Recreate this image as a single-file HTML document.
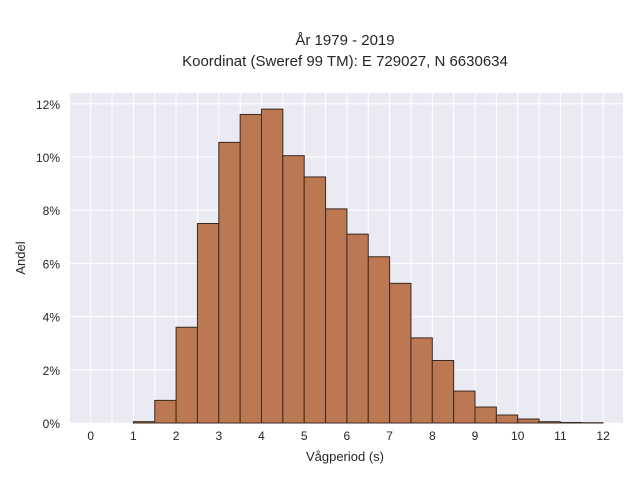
<!DOCTYPE html>
<html><head><meta charset="utf-8"><style>
body{margin:0;background:#fff;}
svg text{font-family:"Liberation Sans",sans-serif;fill:#262626;}
</style></head><body>
<svg id="chart" width="640" height="480" xmlns="http://www.w3.org/2000/svg">
<text x="345" y="45" font-size="15" text-anchor="middle">År 1979 - 2019</text>
<text x="345" y="66" font-size="15" text-anchor="middle">Koordinat (Sweref 99 TM): E 729027, N 6630634</text>
<rect x="70" y="93" width="553" height="330" fill="#eaeaf2"/>
<g id="grid"></g><g id="bars"></g><g id="ticks"></g>
<text x="345" y="461" font-size="13" text-anchor="middle">Vågperiod (s)</text>
<text transform="translate(25,258) rotate(-90)" font-size="13" text-anchor="middle">Andel</text>
</svg>
<script>
const binStarts=[1,1.5,2,2.5,3,3.5,4,4.5,5,5.5,6,6.5,7,7.5,8,8.5,9,9.5,10,10.5,11,11.5];
const shares=[0.05,0.85,3.6,7.5,10.55,11.6,11.8,10.05,9.25,8.05,7.1,6.25,5.25,3.2,2.35,1.2,0.6,0.3,0.15,0.05,0.02,0.01];
const xTicks=[0,1,2,3,4,5,6,7,8,9,10,11,12];
const yTicks=[0,2,4,6,8,10,12];
const binWidth=0.5;
const NS="http://www.w3.org/2000/svg";
const X=v=>90.7+v*42.7, Y=v=>423-v*26.6;
const grid=document.getElementById('grid'),bars=document.getElementById('bars'),ticks=document.getElementById('ticks');
function mk(tag,attrs,parent){const e=document.createElementNS(NS,tag);for(const k in attrs)e.setAttribute(k,attrs[k]);parent.appendChild(e);return e;}
for(let v=-0.5;v<=12.5;v+=0.5){const l=mk('line',{x1:X(v),x2:X(v),y1:93,y2:423,stroke:'#fff','stroke-width':1},grid);

}
yTicks.forEach(t=>{const l=mk('line',{x1:70,x2:623,y1:Y(t),y2:Y(t),stroke:'#fff','stroke-width':1},grid);


const tx=mk('text',{x:60,y:Y(t)+5,'font-size':12,'text-anchor':'end'},ticks);tx.textContent=t+'%';

});
xTicks.forEach(t=>{const tx=mk('text',{x:X(t),y:440,'font-size':12,'text-anchor':'middle'},ticks);tx.textContent=t;

});
binStarts.forEach((b,i)=>{const r=mk('rect',{x:X(b),y:Y(shares[i]),width:X(b+binWidth)-X(b),height:Y(0)-Y(shares[i]),fill:'#bc7852',stroke:'#3a2a20','stroke-width':1},bars);

});
</script>
</body></html>
